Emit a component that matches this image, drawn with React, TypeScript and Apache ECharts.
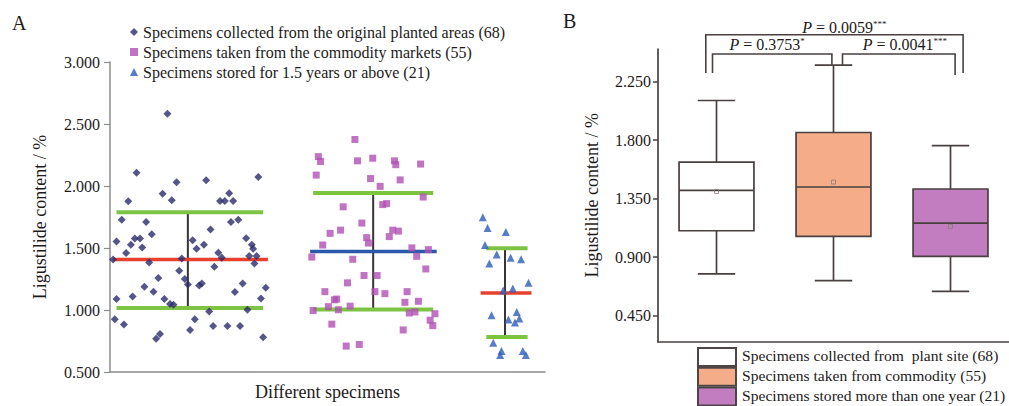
import React, { useEffect, useRef } from "react";
import * as echarts from "echarts";

const FONT = '"Liberation Serif", "Times New Roman", serif';
const TXT = "#1e1a1a";

// ---------- Panel A data (x = jitter position 0..10, y = content %) ----------
const planted: [number, number][] = [
  [0.07, 1.407], [0.15, 1.552], [0.27, 1.728], [0.42, 1.877], [0.37, 1.459], [0.48, 1.527],
  [0.57, 1.576], [0.69, 1.576], [0.74, 1.505], [0.83, 1.709], [0.96, 1.61], [0.9, 1.383],
  [0.79, 1.187], [1.0, 1.148], [1.11, 1.258], [1.21, 1.937], [1.42, 1.885], [1.53, 2.031],
  [1.59, 1.317], [1.65, 1.415], [1.25, 1.088], [1.38, 1.049], [1.46, 1.043], [1.72, 1.25],
  [1.79, 1.205], [1.06, 0.769], [1.15, 0.806], [0.15, 1.088], [0.11, 0.926], [0.32, 0.884],
  [0.52, 1.109], [1.84, 0.839], [1.95, 0.926], [1.9, 1.563], [1.99, 1.493], [2.05, 1.197],
  [2.11, 1.213], [2.16, 1.527], [2.28, 0.988], [2.31, 1.65], [2.4, 1.349], [2.49, 1.461],
  [2.57, 1.422], [2.37, 0.871], [2.53, 1.879], [2.64, 1.879], [2.74, 1.942], [2.83, 1.879],
  [2.78, 1.709], [2.95, 1.728], [2.7, 0.871], [2.87, 1.145], [3.05, 1.213], [3.13, 1.579],
  [3.26, 1.527], [3.29, 1.493], [3.2, 1.435], [3.37, 1.435], [3.32, 1.375], [3.16, 1.002],
  [2.99, 0.871], [3.47, 1.093], [3.58, 1.18], [3.52, 0.78], [3.41, 2.073], [1.32, 2.582],
  [0.61, 2.107], [2.21, 2.046],
];
const market: [number, number][] = [
  [5.63, 2.375], [4.79, 2.237], [4.84, 2.198], [4.74, 2.088], [5.69, 2.203], [6.04, 2.224],
  [6.54, 2.203], [6.57, 2.172], [7.14, 2.177], [5.99, 2.06], [6.21, 1.997], [6.67, 2.049],
  [7.2, 1.911], [5.36, 1.832], [6.27, 1.85], [6.36, 1.858], [5.79, 1.701], [5.06, 1.618],
  [5.3, 1.644], [5.9, 1.584], [5.94, 1.54], [6.42, 1.592], [6.5, 1.644], [6.63, 1.636],
  [4.89, 1.524], [4.64, 1.427], [5.58, 1.409], [6.94, 1.501], [7.05, 1.433], [7.32, 1.487],
  [7.26, 1.331], [5.84, 1.278], [6.14, 1.278], [5.46, 1.219], [4.94, 1.148], [5.16, 1.082],
  [5.21, 1.088], [6.09, 1.148], [6.32, 1.132], [6.83, 1.148], [6.78, 1.062], [7.09, 1.07],
  [5.52, 1.031], [5.02, 1.027], [4.67, 0.996], [5.25, 1.002], [6.88, 0.976], [7.01, 0.984],
  [7.47, 0.97], [7.36, 0.918], [7.42, 0.874], [5.1, 0.886], [6.74, 0.839], [5.43, 0.709],
  [5.73, 0.722],
];
const stored: [number, number][] = [
  [8.57, 1.748], [8.68, 1.662], [9.1, 1.629], [8.62, 1.524], [8.89, 1.448], [8.72, 1.375],
  [9.21, 1.422], [9.45, 1.409], [9.62, 1.219], [9.04, 1.158], [9.26, 1.174], [8.77, 0.957],
  [9.16, 0.923], [9.35, 0.984], [9.41, 0.931], [9.31, 0.9], [8.81, 0.735], [9.0, 0.67],
  [8.97, 0.638], [9.49, 0.67], [9.56, 0.638],
];
const groupNames = [
  "Specimens collected from the original planted areas (68)",
  "Specimens taken from the commodity markets (55)",
  "Specimens stored for 1.5 years or above (21)",
];
const groupMean = [1.407, 1.472, 1.137];
const groupSdHigh = [1.788, 1.944, 1.498];
const groupSdLow = [1.017, 1.004, 0.782];
const groupBarX = [1.79, 6.05, 9.08];
const meanSpan = [[0.07, 3.63], [4.6, 7.51], [8.52, 9.69]];
const sdSpan = [[0.15, 3.52], [4.67, 7.43], [8.65, 9.6]];

// ---------- Panel B data ----------
const boxCategories = [
  "Specimens collected from  plant site (68)",
  "Specimens taken from commodity (55)",
  "Specimens stored more than one year (21)",
];
// [min, Q1, median, Q3, max]
const boxStats = [
  [0.771, 1.103, 1.413, 1.631, 2.104],
  [0.719, 1.06, 1.439, 1.858, 2.376],
  [0.637, 0.906, 1.162, 1.424, 1.758],
];
const boxMeans = [1.405, 1.477, 1.136];
const yTicksB = [0.45, 0.9, 1.35, 1.8, 2.25];
const pValues = ["0.0059", "0.3753", "0.0041"];
const pStars = ["***", "*", "***"];
const bracketPairs = [[0, 2], [0, 1], [1, 2]];
const bracketTop = [2.609, 2.461, 2.461];
const bracketEnds = [[2.315, 2.315], [2.315, 2.378], [2.378, 2.301]];
const pLabelLevel = [2.663, 2.532, 2.532];

// layout constants (pixels)
const bracketDx = [[-10.7, 12.6], [-4, -1.6], [9, 4.6]];
const labelDx = [10, -5, 6];
const boxFill = ["#ffffff", "#F5AC88", "#C27DC0"];
const STROKE = "#4a4040";

export default function App() {
  const ref = useRef<HTMLDivElement>(null);
  useEffect(() => {
    const chart = echarts.init(ref.current!, null, { renderer: "svg" });
    const series: any[] = [];
    const lineSeg = (pts: number[][], color: string, width: number) => ({
      type: "line",
      xAxisIndex: 0,
      yAxisIndex: 0,
      data: pts,
      symbol: "none",
      silent: true,
      lineStyle: { color, width, cap: "butt" },
      z: 2,
    });
    for (let g = 0; g < 3; g++) {
      series.push(lineSeg([[groupBarX[g], groupSdLow[g]], [groupBarX[g], groupSdHigh[g]]], "#3a3535", 2));
      series.push(lineSeg([[sdSpan[g][0], groupSdHigh[g]], [sdSpan[g][1], groupSdHigh[g]]], "#7DC443", 4));
      series.push(lineSeg([[sdSpan[g][0], groupSdLow[g]], [sdSpan[g][1], groupSdLow[g]]], "#7DC443", 4));
      series.push(
        lineSeg([[meanSpan[g][0], groupMean[g]], [meanSpan[g][1], groupMean[g]]], g === 1 ? "#2A58AA" : "#E8402C", 3.5)
      );
    }
    const groupData = [planted, market, stored];
    const symbols = ["diamond", "rect", "triangle"];
    const sizes = [8, 7, 8];
    const colors = ["#2A2A6C", "#B150B4", "#2D5DBA"];
    for (let g = 0; g < 3; g++) {
      series.push({
        type: "scatter",
        name: groupNames[g],
        xAxisIndex: 0,
        yAxisIndex: 0,
        data: groupData[g],
        symbol: symbols[g],
        symbolSize: sizes[g],
        itemStyle: { color: colors[g] },
        z: 3,
      });
    }
    // boxplot (custom for half-width whisker caps and mean markers)
    series.push({
      type: "custom",
      xAxisIndex: 1,
      yAxisIndex: 1,
      data: boxStats.map((s, i) => [i, ...s, boxMeans[i]]),
      encode: { x: 0, y: [1, 2, 3, 4, 5] },
      renderItem: (params: any, api: any) => {
        const i = api.value(0);
        const c = api.coord([i, api.value(3)]);
        const cx = c[0];
        const yMed = c[1];
        const yMin = api.coord([i, api.value(1)])[1];
        const yQ1 = api.coord([i, api.value(2)])[1];
        const yQ3 = api.coord([i, api.value(4)])[1];
        const yMax = api.coord([i, api.value(5)])[1];
        const yMean = api.coord([i, api.value(6)])[1];
        const band = api.size([1, 0])[0];
        const bw = band * 0.64;
        const cw = bw / 2;
        const ls = { stroke: STROKE, lineWidth: 1.7 };
        return {
          type: "group",
          children: [
            { type: "line", shape: { x1: cx, y1: yMax, x2: cx, y2: yQ3 }, style: ls },
            { type: "line", shape: { x1: cx, y1: yQ1, x2: cx, y2: yMin }, style: ls },
            { type: "line", shape: { x1: cx - cw / 2, y1: yMax, x2: cx + cw / 2, y2: yMax }, style: ls },
            { type: "line", shape: { x1: cx - cw / 2, y1: yMin, x2: cx + cw / 2, y2: yMin }, style: ls },
            {
              type: "rect",
              shape: { x: cx - bw / 2, y: yQ3, width: bw, height: yQ1 - yQ3 },
              style: { fill: boxFill[i], stroke: STROKE, lineWidth: 1.7 },
            },
            { type: "line", shape: { x1: cx - bw / 2, y1: yMed, x2: cx + bw / 2, y2: yMed }, style: ls },
            {
              type: "rect",
              shape: { x: cx - 2, y: yMean - 2, width: 4, height: 4 },
              style: { fill: "none", stroke: "#8a7a7a", lineWidth: 0.8 },
            },
          ],
        };
      },
      z: 3,
    });
    // significance brackets
    series.push({
      type: "custom",
      xAxisIndex: 1,
      yAxisIndex: 1,
      clip: false,
      data: bracketPairs.map((p, i) => [p[0], p[1], bracketTop[i]]),
      encode: { x: 0, y: 2 },
      renderItem: (params: any, api: any) => {
        const k = params.dataIndex;
        const [a, b] = bracketPairs[k];
        const xa = api.coord([a, 1])[0] + bracketDx[k][0];
        const xb = api.coord([b, 1])[0] + bracketDx[k][1];
        const yT = api.coord([a, bracketTop[k]])[1];
        const yA = api.coord([a, bracketEnds[k][0]])[1];
        const yB = api.coord([a, bracketEnds[k][1]])[1];
        const yL = api.coord([a, pLabelLevel[k]])[1];
        return {
          type: "group",
          children: [
            {
              type: "polyline",
              shape: { points: [[xa, yA], [xa, yT], [xb, yT], [xb, yB]] },
              style: { stroke: STROKE, lineWidth: 1.6, fill: "none" },
            },
            {
              type: "text",
              x: (xa + xb) / 2 + labelDx[k],
              y: yL,
              style: {
                text: `{i|P} = ${pValues[k]}{s|${pStars[k]}}`,
                fontFamily: FONT,
                fontSize: 16,
                fill: TXT,
                align: "center",
                verticalAlign: "middle",
                rich: {
                  i: { fontFamily: FONT, fontSize: 16, fontStyle: "italic", fill: TXT },
                  s: { fontFamily: FONT, fontSize: 9, fill: TXT, verticalAlign: "top", lineHeight: 10 },
                },
              },
            },
          ],
        };
      },
      z: 4,
    });

    const legendB: any[] = [];
    boxCategories.forEach((name, i) => {
      legendB.push({
        type: "rect",
        left: 697,
        top: 347 + i * 19.8,
        shape: { x: 0, y: 0, width: 38, height: 18 },
        style: { fill: boxFill[i], stroke: "#4e4646", lineWidth: 2 },
      });
      legendB.push({
        type: "text",
        left: 742,
        top: 347.5 + i * 19.8,
        style: { text: name, font: `15.6px ${FONT}`, fill: TXT },
      });
    });

    const option: any = {
      animation: false,
      backgroundColor: "#ffffff",
      grid: [
        { left: 110, top: 62, width: 435, height: 318 },
        { left: 658, top: 49, width: 361, height: 292.7 },
      ],
      legend: {
        data: groupNames,
        orient: "vertical",
        left: 130,
        top: 24,
        padding: 0,
        itemWidth: 8,
        itemHeight: 8,
        itemGap: 4,
        selectedMode: false,
        textStyle: { fontFamily: FONT, fontSize: 16, color: TXT },
      },
      xAxis: [
        {
          type: "value",
          gridIndex: 0,
          min: 0,
          max: 10,
          axisLine: { show: true, onZero: false, lineStyle: { color: "#8c8c8c", width: 1.5 } },
          axisTick: { show: false },
          axisLabel: { show: false },
          splitLine: { show: false },
          name: "Different specimens",
          nameLocation: "middle",
          nameGap: 11,
          nameTextStyle: { fontFamily: FONT, fontSize: 18, color: TXT },
        },
        {
          type: "category",
          gridIndex: 1,
          data: boxCategories,
          axisLine: { show: true, lineStyle: { color: STROKE, width: 1.7 } },
          axisTick: { show: false },
          axisLabel: { show: false },
          splitLine: { show: false },
        },
      ],
      yAxis: [
        {
          type: "value",
          gridIndex: 0,
          min: 0.5,
          max: 3,
          interval: 0.5,
          axisLine: { show: true, lineStyle: { color: "#8c8c8c", width: 1.5 } },
          axisTick: { show: true, length: 6, lineStyle: { color: "#8c8c8c", width: 1.2 } },
          axisLabel: {
            formatter: (v: number) => v.toFixed(3),
            fontFamily: FONT,
            fontSize: 16,
            color: TXT,
            margin: 10,
          },
          splitLine: { show: false },
          name: "Ligustilide content / %",
          nameLocation: "middle",
          nameRotate: 90,
          nameGap: 61,
          nameTextStyle: { fontFamily: FONT, fontSize: 18, color: TXT },
        },
        {
          type: "value",
          gridIndex: 1,
          min: 0.25,
          max: 2.5,
          axisLine: { show: true, lineStyle: { color: STROKE, width: 1.7 } },
          axisTick: { show: true, length: 5, customValues: yTicksB, lineStyle: { color: STROKE, width: 1.5 } },
          axisLabel: {
            customValues: yTicksB,
            formatter: (v: number) => v.toFixed(3),
            fontFamily: FONT,
            fontSize: 16,
            color: TXT,
            margin: 7,
          },
          splitLine: { show: false },
          name: "Ligustilide content / %",
          nameLocation: "middle",
          nameRotate: 90,
          nameGap: 57,
          nameTextStyle: { fontFamily: FONT, fontSize: 18, color: TXT },
        },
      ],
      graphic: [
        { type: "text", left: 12, top: 13, style: { text: "A", font: `20px ${FONT}`, fill: TXT } },
        { type: "text", left: 563, top: 11, style: { text: "B", font: `20px ${FONT}`, fill: TXT } },
        ...legendB,
      ],
      series,
    };
    chart.setOption(option);
    return () => chart.dispose();
  }, []);
  return (
    <div
      ref={ref}
      style={{ position: "fixed", left: 0, top: 0, width: 1009, height: 406 }}
    />
  );
}
